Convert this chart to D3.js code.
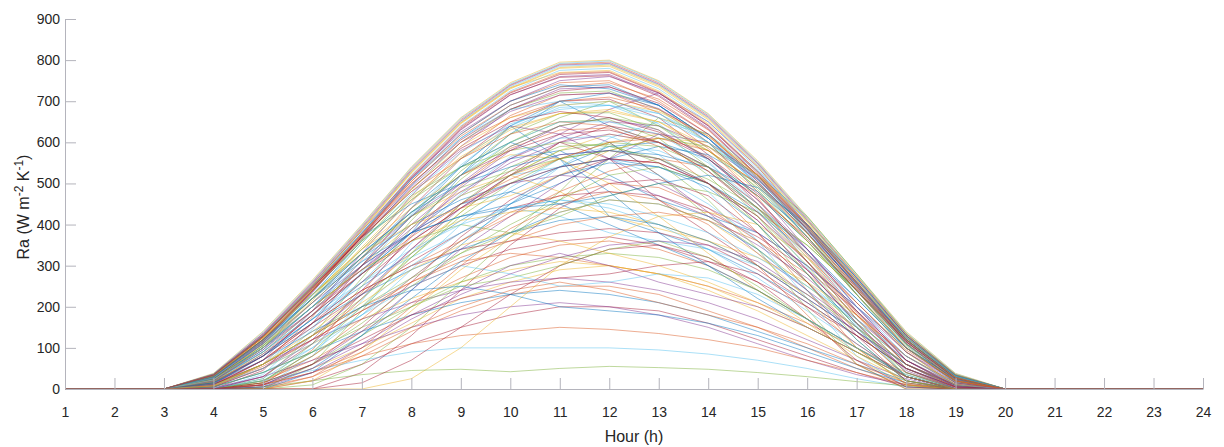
<!DOCTYPE html>
<html><head><meta charset="utf-8">
<script src="https://cdn.jsdelivr.net/npm/d3@7"></script>
<style>body{margin:0;background:#fff}svg{display:block}</style>
</head><body><svg id="c" width="1224" height="447"></svg>
<script>
const hours = [1,2,3,4,5,6,7,8,9,10,11,12,13,14,15,16,17,18,19,20,21,22,23,24];
const xTickLabels = ["1","2","3","4","5","6","7","8","9","10","11","12","13","14","15","16","17","18","19","20","21","22","23","24"];
const yTickValues = [0,100,200,300,400,500,600,700,800,900];
const lineColors = ["#0072BD","#D95319","#EDB120","#7E2F8E","#77AC30","#4DBEEE","#A2142F"];
const seriesValues = [
[0,0,0,20,90,180,280,380,520,640,560,420,380,340,280,210,130,50,5,0,0,0,0,0],
[0,0,0,36,135,260,395,535,655,740,790,795,745,665,550,415,275,135,35,0,0,0,0,0],
[0,0,0,38,140,265,400,540,660,745,795,800,750,670,555,420,280,140,38,0,0,0,0,0],
[0,0,0,5,70,190,330,470,590,680,730,735,690,600,480,340,200,70,5,0,0,0,0,0],
[0,0,0,30,120,240,360,470,540,600,660,700,640,560,470,360,240,120,30,0,0,0,0,0],
[0,0,0,35,130,255,390,530,650,735,785,790,740,660,545,410,270,130,33,0,0,0,0,0],
[0,0,0,5,50,120,190,250,300,340,360,370,350,310,260,200,130,50,5,0,0,0,0,0],
[0,0,0,25,110,220,330,430,520,620,700,640,600,540,440,340,220,100,25,0,0,0,0,0],
[0,0,0,3,60,175,315,455,575,665,715,720,672,585,465,325,185,60,3,0,0,0,0,0],
[0,0,0,30,125,250,385,525,645,730,780,785,735,655,540,405,265,128,30,0,0,0,0,0],
[0,0,0,20,100,200,290,380,470,560,620,680,720,650,540,400,260,120,28,0,0,0,0,0],
[0,0,0,10,60,130,200,270,330,380,480,600,520,420,340,250,160,70,10,0,0,0,0,0],
[0,0,0,28,120,245,380,520,640,725,775,780,730,650,535,400,260,125,28,0,0,0,0,0],
[0,0,0,0,45,160,300,440,560,650,700,705,660,570,450,310,170,50,0,0,0,0,0,0],
[0,0,0,35,130,250,370,450,500,560,580,520,460,420,380,300,200,100,25,0,0,0,0,0],
[0,0,0,10,60,130,200,260,310,330,320,300,280,250,210,160,100,40,5,0,0,0,0,0],
[0,0,0,32,128,252,388,528,648,733,770,775,725,645,530,398,258,122,27,0,0,0,0,0],
[0,0,0,10,80,180,280,400,500,590,640,600,520,430,330,240,150,60,10,0,0,0,0,0],
[0,0,0,0,20,80,160,250,330,400,460,560,660,620,520,380,230,90,10,0,0,0,0,0],
[0,0,0,0,35,145,285,425,545,635,685,690,645,555,435,295,155,40,0,0,0,0,0,0],
[0,0,0,25,115,240,375,515,635,720,765,770,720,640,525,395,255,120,25,0,0,0,0,0],
[0,0,0,15,90,190,300,420,540,640,700,720,690,610,500,370,230,100,18,0,0,0,0,0],
[0,0,0,0,20,70,140,210,270,320,350,360,340,300,240,170,100,30,0,0,0,0,0,0],
[0,0,0,28,115,230,340,420,480,520,560,600,620,580,500,390,260,130,30,0,0,0,0,0],
[0,0,0,20,110,235,370,510,630,715,760,765,715,635,520,390,250,115,22,0,0,0,0,0],
[0,0,0,0,25,130,270,410,530,620,670,672,630,540,420,280,140,30,0,0,0,0,0,0],
[0,0,0,5,60,150,260,380,470,520,540,560,520,450,360,260,160,70,8,0,0,0,0,0],
[0,0,0,25,100,190,280,360,440,520,600,560,460,380,300,220,140,60,10,0,0,0,0,0],
[0,0,0,12,85,170,250,330,410,480,540,590,600,560,470,360,230,100,15,0,0,0,0,0],
[0,0,0,22,112,238,372,505,620,700,745,750,700,620,505,380,245,112,20,0,0,0,0,0],
[0,0,0,8,50,110,170,220,260,290,310,300,280,250,200,150,90,30,0,0,0,0,0,0],
[0,0,0,30,125,245,370,480,580,640,620,560,500,440,380,300,200,90,20,0,0,0,0,0],
[0,0,0,0,15,110,250,390,510,600,650,655,610,520,400,260,120,20,0,0,0,0,0,0],
[0,0,0,5,40,100,180,270,360,440,420,380,360,340,300,230,150,60,5,0,0,0,0,0],
[0,0,0,0,30,110,220,340,450,530,600,640,620,560,460,330,190,60,0,0,0,0,0,0],
[0,0,0,18,105,228,362,495,610,690,735,740,690,610,495,370,238,108,18,0,0,0,0,0],
[0,0,0,8,70,160,240,300,360,420,480,530,560,540,470,370,240,110,20,0,0,0,0,0],
[0,0,0,0,10,50,100,160,220,260,290,300,280,240,190,130,70,15,0,0,0,0,0,0],
[0,0,0,20,100,210,320,420,500,560,610,650,640,590,510,400,270,130,30,0,0,0,0,0],
[0,0,0,15,100,222,355,485,600,680,720,725,680,600,485,360,230,105,15,0,0,0,0,0],
[0,0,0,0,20,90,180,290,400,490,560,590,580,530,440,320,190,60,0,0,0,0,0,0],
[0,0,0,18,80,160,240,300,340,360,380,390,380,350,290,210,130,50,5,0,0,0,0,0],
[0,0,0,25,110,220,320,400,460,500,540,560,540,500,430,330,220,100,22,0,0,0,0,0],
[0,0,0,0,10,95,235,375,495,585,630,635,590,500,380,240,100,12,0,0,0,0,0,0],
[0,0,0,15,90,190,300,400,470,520,480,420,390,360,320,260,180,80,12,0,0,0,0,0],
[0,0,0,12,60,120,170,210,240,260,270,260,240,210,170,120,70,25,0,0,0,0,0,0],
[0,0,0,30,120,230,330,420,490,530,560,580,610,590,520,420,280,135,35,0,0,0,0,0],
[0,0,0,37,138,262,398,538,658,742,792,798,748,668,552,418,278,138,37,0,0,0,0,0],
[0,0,0,0,10,60,150,260,370,460,520,560,550,500,410,290,160,40,0,0,0,0,0,0],
[0,0,0,18,95,200,300,380,420,450,500,560,590,570,500,390,260,120,25,0,0,0,0,0],
[0,0,0,0,5,30,80,140,190,230,250,250,230,190,150,100,50,10,0,0,0,0,0,0],
[0,0,0,5,60,140,230,330,430,520,580,620,600,540,450,320,180,60,5,0,0,0,0,0],
[0,0,0,34,132,258,392,532,652,738,788,792,742,662,548,412,272,133,34,0,0,0,0,0],
[0,0,0,22,105,200,290,360,400,380,420,470,500,480,430,350,240,110,20,0,0,0,0,0],
[0,0,0,0,5,80,215,355,475,565,610,615,570,480,360,220,80,5,0,0,0,0,0,0],
[0,0,0,10,70,150,230,310,380,440,470,480,470,430,370,290,190,80,10,0,0,0,0,0],
[0,0,0,5,40,90,140,180,210,230,240,230,210,180,140,100,60,20,0,0,0,0,0,0],
[0,0,0,0,15,80,170,270,360,430,470,500,490,440,360,260,140,30,0,0,0,0,0,0],
[0,0,0,31,127,253,388,527,647,732,782,788,738,658,543,408,268,129,31,0,0,0,0,0],
[0,0,0,28,110,210,300,380,450,500,520,510,470,420,350,270,170,70,12,0,0,0,0,0],
[0,0,0,0,0,60,190,330,450,540,590,595,550,460,340,195,60,0,0,0,0,0,0,0],
[0,0,0,12,80,170,260,340,400,440,460,450,420,380,320,250,170,80,15,0,0,0,0,0],
[0,0,0,0,0,20,60,110,150,180,200,200,190,160,120,80,40,5,0,0,0,0,0,0],
[0,0,0,0,5,50,130,220,310,380,430,460,450,410,340,240,120,20,0,0,0,0,0,0],
[0,0,0,26,118,243,378,518,638,722,768,772,722,642,528,396,256,121,26,0,0,0,0,0],
[0,0,0,20,100,200,290,360,410,430,440,430,400,360,300,230,150,60,10,0,0,0,0,0],
[0,0,0,3,30,70,110,150,180,200,210,200,180,150,110,70,35,10,0,0,0,0,0,0],
[0,0,0,30,120,240,360,460,540,580,600,590,560,510,440,350,240,120,30,0,0,0,0,0],
[0,0,0,0,25,100,200,300,380,440,460,440,400,340,270,190,110,30,0,0,0,0,0,0],
[0,0,0,24,114,238,372,512,632,716,758,762,712,632,518,388,248,116,24,0,0,0,0,0],
[0,0,0,15,80,160,230,290,340,380,410,420,400,360,300,220,140,60,8,0,0,0,0,0],
[0,0,0,0,10,40,80,110,130,140,150,145,135,120,100,70,40,10,0,0,0,0,0,0],
[0,0,0,0,0,0,0,25,100,200,300,370,420,430,400,320,210,90,10,0,0,0,0,0],
[0,0,0,36,134,255,385,515,625,700,750,760,720,640,530,400,265,130,34,0,0,0,0,0],
[0,0,0,0,0,10,60,150,260,370,460,520,540,500,420,300,160,30,0,0,0,0,0,0],
[0,0,0,2,20,45,70,90,100,100,100,100,95,85,70,50,25,5,0,0,0,0,0,0],
[0,0,0,0,0,0,40,130,240,350,440,500,510,470,380,260,130,20,0,0,0,0,0,0],
[0,0,0,25,100,200,320,440,540,600,560,480,380,300,220,150,90,30,0,0,0,0,0,0],
[0,0,0,33,126,248,378,505,615,690,735,745,705,630,520,395,260,126,32,0,0,0,0,0],
[0,0,0,30,120,230,340,440,520,570,560,500,420,330,240,160,80,20,0,0,0,0,0,0],
[0,0,0,0,10,60,140,240,340,420,500,560,620,600,520,400,260,110,20,0,0,0,0,0],
[0,0,0,0,5,20,35,45,48,42,50,55,52,48,40,30,18,8,0,0,0,0,0,0],
[0,0,0,20,90,180,260,320,380,450,540,610,650,620,530,410,270,120,28,0,0,0,0,0],
[0,0,0,29,120,240,370,498,606,680,725,735,695,620,512,388,252,120,28,0,0,0,0,0],
[0,0,0,15,80,170,280,380,450,480,450,400,350,300,240,170,100,30,0,0,0,0,0,0],
[0,0,0,0,0,30,100,200,300,390,450,480,460,400,300,180,60,0,0,0,0,0,0,0],
[0,0,0,35,125,230,330,400,440,470,520,580,610,600,520,410,275,135,35,0,0,0,0,0],
[0,0,0,27,117,236,365,492,600,675,715,720,682,610,505,380,245,115,25,0,0,0,0,0],
[0,0,0,10,60,130,220,320,420,500,560,580,560,500,400,280,150,40,0,0,0,0,0,0],
[0,0,0,28,110,220,340,460,560,640,690,700,670,600,500,380,240,110,25,0,0,0,0,0],
[0,0,0,0,0,0,15,70,150,230,300,340,350,320,260,170,70,5,0,0,0,0,0,0],
[0,0,0,33,128,250,380,510,620,700,740,730,690,610,510,385,250,118,30,0,0,0,0,0],
[0,0,0,32,125,245,375,500,600,660,700,710,680,615,515,392,258,124,30,0,0,0,0,0],
[0,0,0,18,100,215,340,460,560,630,670,680,650,580,480,360,230,100,20,0,0,0,0,0],
[0,0,0,0,30,120,240,370,490,580,640,660,630,560,460,340,200,70,5,0,0,0,0,0],
[0,0,0,25,105,210,320,430,520,590,640,660,640,580,490,370,240,110,25,0,0,0,0,0],
[0,0,0,35,130,250,380,510,610,680,700,690,660,600,510,390,255,125,32,0,0,0,0,0],
[0,0,0,12,80,180,300,420,520,580,620,630,600,530,430,310,180,60,5,0,0,0,0,0],
[0,0,0,30,115,220,330,430,500,540,570,580,570,540,480,380,255,125,32,0,0,0,0,0],
[0,0,0,8,55,120,190,260,320,360,400,420,430,410,360,280,180,80,15,0,0,0,0,0],
[0,0,0,30,122,240,365,485,590,660,690,700,675,615,520,400,265,128,33,0,0,0,0,0],
[0,0,0,20,95,190,290,390,480,550,600,620,600,540,450,340,210,90,15,0,0,0,0,0],
[0,0,0,0,20,90,200,320,430,520,580,600,590,540,440,310,170,50,0,0,0,0,0,0],
[0,0,0,26,115,230,355,475,575,645,680,690,670,610,515,395,262,126,31,0,0,0,0,0],
[0,0,0,10,70,160,260,360,440,500,540,560,550,500,420,310,190,70,8,0,0,0,0,0],
[0,0,0,30,120,220,310,380,420,440,450,470,500,520,490,400,270,130,33,0,0,0,0,0],
[0,0,0,35,130,250,370,480,560,620,650,640,600,530,440,330,210,95,20,0,0,0,0,0],
[0,0,0,22,108,220,345,465,565,635,670,675,650,590,495,378,248,118,27,0,0,0,0,0],
[0,0,0,5,50,130,230,340,440,520,570,580,560,500,410,290,160,45,0,0,0,0,0,0],
[0,0,0,0,15,60,130,200,260,300,320,330,320,290,240,170,100,35,0,0,0,0,0,0],
[0,0,0,22,100,200,310,420,520,600,650,650,620,550,450,330,200,80,10,0,0,0,0,0],
[0,0,0,34,128,246,368,488,585,650,675,660,625,565,475,365,240,115,26,0,0,0,0,0],
[0,0,0,0,0,40,130,240,350,450,520,550,540,490,400,280,150,30,0,0,0,0,0,0],
[0,0,0,15,85,180,280,370,450,510,560,600,610,580,500,380,240,100,18,0,0,0,0,0],
[0,0,0,0,0,20,90,190,290,370,430,460,450,410,330,220,100,10,0,0,0,0,0,0],
[0,0,0,0,10,50,110,180,240,300,330,300,260,230,200,150,90,30,0,0,0,0,0,0],
[0,0,0,5,40,90,150,200,250,270,300,340,360,320,250,170,90,20,0,0,0,0,0,0],
[0,0,0,10,50,110,180,250,300,280,250,260,280,270,230,170,100,35,0,0,0,0,0,0],
[0,0,0,0,15,60,120,180,220,250,270,280,300,310,280,200,110,30,0,0,0,0,0,0],
[0,0,0,15,70,140,200,240,250,230,200,190,180,160,130,90,50,15,0,0,0,0,0,0],
[0,0,0,0,10,40,90,150,200,240,260,240,210,180,150,110,60,15,0,0,0,0,0,0],
[0,0,0,8,60,130,210,290,350,380,360,330,300,260,210,150,90,30,0,0,0,0,0,0],
[0,0,0,0,5,40,100,170,230,280,320,350,360,350,310,230,140,50,3,0,0,0,0,0]
];

const W = 1224, H = 447;
const margin = {left: 65, right: 21, top: 19, bottom: 58};
const svg = d3.select("#c");
const x = d3.scaleLinear().domain([1, 24]).range([margin.left, W - margin.right]);
const y = d3.scaleLinear().domain([0, 900]).range([H - margin.bottom, margin.top]);

const line = d3.line().x((d, i) => x(hours[i])).y(d => y(d));
svg.append("g").selectAll("path").data(seriesValues).join("path")
  .attr("d", line)
  .attr("fill", "none")
  .attr("stroke", (d, i) => lineColors[i % lineColors.length])
  .attr("stroke-width", 0.8)
  .attr("stroke-opacity", 0.6)
  .attr("stroke-linejoin", "round");

const axisColor = "#b4b4bc";
const textColor = "#262626";
const font = "Liberation Sans, Arial, Helvetica, sans-serif";

const xAxis = d3.axisBottom(x).tickValues(hours).tickFormat((d, i) => xTickLabels[i]).tickSizeInner(-11).tickSizeOuter(0);
const gx = svg.append("g").attr("transform", `translate(0,${H - margin.bottom})`).call(xAxis);
const yAxis = d3.axisLeft(y).tickValues(yTickValues).tickSizeInner(-11).tickSizeOuter(0).tickPadding(5);
const gy = svg.append("g").attr("transform", `translate(${margin.left},0)`).call(yAxis);
[gx, gy].forEach(g => {
  g.select(".domain").attr("stroke", axisColor).attr("stroke-width", 1);
  g.selectAll(".tick line").attr("stroke", axisColor).attr("stroke-width", 1);
  g.selectAll(".tick text").attr("fill", textColor).attr("font-family", font).attr("font-size", 14);
});
gx.selectAll(".tick text").attr("y", 28).attr("dy", 0);
gy.selectAll(".tick").filter(d => d === 0).select("line").remove();

svg.append("text")
  .attr("x", (x(1) + x(24)) / 2).attr("y", 442)
  .attr("text-anchor", "middle")
  .attr("font-family", font).attr("font-size", 16).attr("fill", textColor)
  .text("Hour (h)");

const yl = svg.append("text")
  .attr("transform", `translate(29,207) rotate(-90)`)
  .attr("text-anchor", "middle")
  .attr("font-family", font).attr("font-size", 16).attr("fill", textColor);
yl.append("tspan").text("Ra (W m");
yl.append("tspan").attr("dy", -6).attr("font-size", 12).text("-2");
yl.append("tspan").attr("dy", 6).text(" K");
yl.append("tspan").attr("dy", -6).attr("font-size", 12).text("-1");
yl.append("tspan").attr("dy", 6).text(")");
</script></body></html>
